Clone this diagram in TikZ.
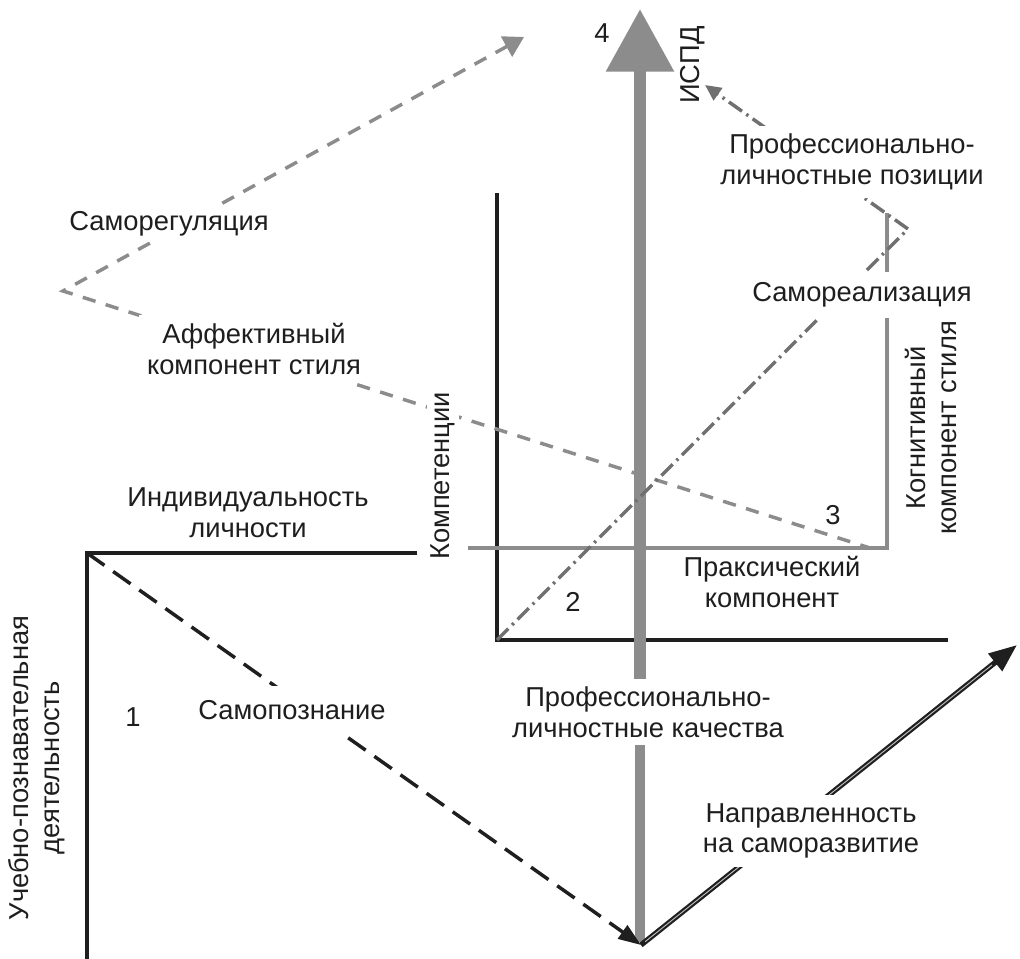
\documentclass[tikz,border=0pt]{standalone}
\usepackage{fontspec}
\setmainfont{Liberation Sans}
\usetikzlibrary{arrows.meta}
\definecolor{txt}{HTML}{1E1E1E}
\definecolor{lgray}{HTML}{8C8C8C}
\definecolor{dgray}{HTML}{707070}
\begin{document}
\begin{tikzpicture}[x=0.75pt,y=-0.75pt,
  every node/.style={text=txt, font=\fontsize{20.5pt}{23pt}\selectfont, inner sep=1pt},
  lbl/.style={align=center},
  cut/.style={align=center, fill=white, inner sep=6pt},
  blackaxis/.style={line width=3.2pt, black!88},
  grayframe/.style={line width=2.6pt, lgray},
  shaftstyle/.style={line width=8.8pt, lgray},
  gdash/.style={line width=2.6pt, lgray, dash pattern=on 10pt off 8pt},
  ddot/.style={line width=2.6pt, dgray, dash pattern=on 12pt off 4pt on 1.8pt off 4pt},
  bdash/.style={line width=2.6pt, black!88, dash pattern=on 16pt off 8pt},
]
\fill[white] (0,0) rectangle (1020,959);
\useasboundingbox (0,0) rectangle (1020,959);

% coordinates
\coordinate (P) at (63,291);
\coordinate (G) at (524,37);
\coordinate (Q) at (870,548);
\coordinate (O) at (497,640);
\coordinate (Kt) at (497,193);
\coordinate (Ke) at (948,640);
\coordinate (V) at (908,229);
\coordinate (H) at (705,85);
\coordinate (C) at (87,553);
\coordinate (Lr) at (417,553);
\coordinate (Lb) at (87,962);
\coordinate (B) at (641,945);
\coordinate (E) at (1017,645);
\coordinate (Sb) at (640,942);
\coordinate (Sm) at (640,700);
\coordinate (St) at (640,9);
\coordinate (Fl) at (468,548);
\coordinate (Fc) at (887,548);
\coordinate (Ft) at (887,213);

% frames and axes
\draw[blackaxis] (Kt) -- (O) -- (Ke);
\draw[grayframe] (Fl) -- (Fc) -- (Ft);
\draw[blackaxis] (Lr) -- (C) -- (Lb);

% main gray axis
\draw[shaftstyle, line width=6.8pt] (Sb) -- (Sm);
\draw[shaftstyle, -{Triangle[width=49pt,length=47pt]}] (Sm) -- (St);

% dashed and dash-dot paths
\draw[gdash, {Triangle[length=15pt,width=17pt]}-] (G) -- (P) -- (Q);
\draw[ddot, -{Triangle[length=12pt,width=11pt]}] (O) -- (V) -- (H);
\draw[bdash, -{Triangle[length=17pt,width=12pt]}] (C) -- (B);

% black double arrow
\draw[line width=4pt, black!88, -{Triangle[length=21pt,width=16pt]}] (B) -- (E);
\draw[white!75!black, line width=0.7pt, shorten <=4pt, shorten >=24pt] (B) -- (E);

% labels
\node[cut, inner sep=4pt] (samoreg) at (169,224) {Саморегуляция};
\node[cut] (affekt) at (254,349) {Аффективный\\компонент стиля};
\node[lbl] (indiv) at (248,513) {Индивидуальность\\личности};
\node[lbl, rotate=90] (ucheb) at (37,768) {Учебно-познавательная\\деятельность};
\node (n1) at (133,717) {1};
\node[cut, inner xsep=6pt, inner ysep=11pt] (samopozn) at (292,710) {Самопознание};
\node[cut, rotate=90, inner sep=3pt] (kompet) at (443,476) {Компетенции};
\node (n2) at (573,602) {2};
\node (n3) at (833,515) {3};
\node[lbl] (praks) at (772,582) {Праксический\\компонент};
\node[lbl, rotate=90] (kogn) at (931,428) {Когнитивный\\компонент стиля};
\node[cut, inner sep=8pt] (samoreal) at (862,295) {Самореализация};
\node[cut] (pozic) at (852,162) {Профессионально-\\личностные позиции};
\node[cut] (kach) at (648,712) {Профессионально-\\личностные качества};
\node[cut] (naprav) at (811,831) {Направленность\\на саморазвитие};
\node (n4) at (602,33) {4};
\node[rotate=90] (ispd) at (693,65) {ИСПД};
\end{tikzpicture}
\end{document}
